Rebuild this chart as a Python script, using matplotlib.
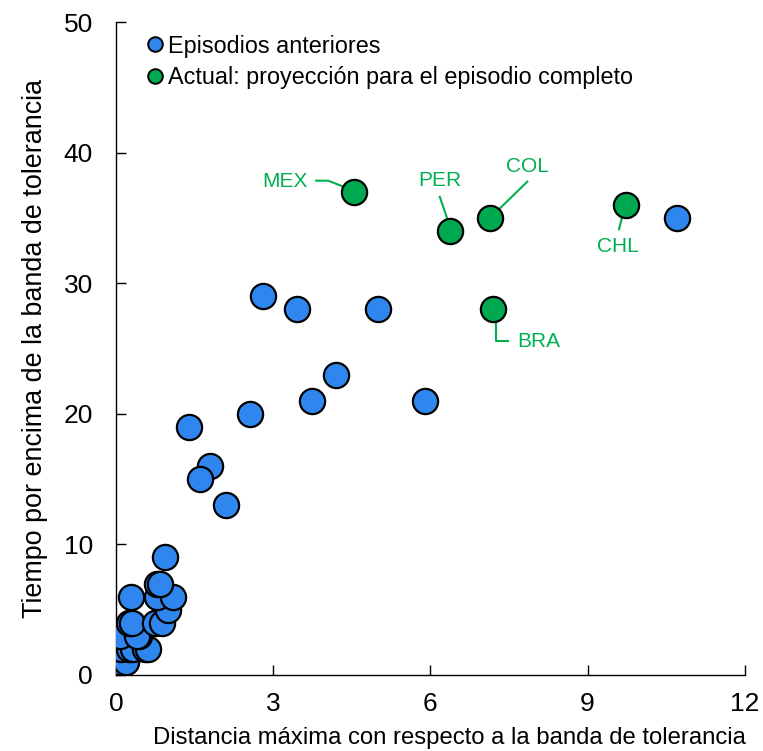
import matplotlib
matplotlib.use("Agg")
import matplotlib.pyplot as plt
from matplotlib.lines import Line2D

plt.rcParams['font.family'] = ['Liberation Sans', 'DejaVu Sans']

# Previous episodes: max distance from tolerance band vs. time above band
prev_x = [0.0, 0.05, 0.2, 0.1, 0.25, 0.33, 0.55, 0.62, 0.08, 0.43, 0.4,
          0.24, 0.3, 0.75, 0.87, 1.0, 0.29, 0.78, 1.09, 0.78, 0.84, 0.94,
          1.4, 1.8, 1.6, 2.1, 2.55, 2.8, 3.45, 3.75, 4.2, 5.0, 5.9, 10.7]
prev_y = [1, 1, 1, 2, 2, 2, 2, 2, 3, 3, 3,
          4, 4, 4, 4, 5, 6, 6, 6, 7, 7, 9,
          19, 16, 15, 13, 20, 29, 28, 21, 23, 28, 21, 35]

# Current episodes: projection for the full episode
cur_names = ['MEX', 'PER', 'COL', 'CHL', 'BRA']
cur_x = [4.55, 6.38, 7.14, 9.73, 7.2]
cur_y = [37, 34, 35, 36, 28]

blue = '#2E86EE'
green = '#00A84F'
label_green = '#00B050'

fig = plt.figure(figsize=(7.63, 7.51), dpi=100)
ax = fig.add_axes([0.152, 0.1012, 0.824, 0.8695])

ax.scatter(prev_x, prev_y, s=330, c=blue, edgecolors='black', linewidths=1.6, zorder=3)
ax.scatter(cur_x, cur_y, s=330, c=green, edgecolors='black', linewidths=1.6, zorder=3)

# Country labels with leader lines
labels = {
    'MEX': ((3.22, 37.77), [(3.82, 37.85), (4.05, 37.85), (4.31, 37.44)]),
    'PER': ((6.18, 37.9), [(6.18, 36.62), (6.32, 34.97)]),
    'COL': ((7.85, 38.97), [(7.85, 37.77), (7.31, 35.66)]),
    'CHL': ((9.58, 32.8), [(9.6, 34.13), (9.67, 35.22)]),
    'BRA': ((8.06, 25.52), [(7.25, 27.18), (7.25, 25.6), (7.48, 25.6)]),
}
for name, ((tx, ty), pts) in labels.items():
    ax.text(tx, ty, name, color=label_green, fontsize=15, ha='center', va='center')
    xs, ys = zip(*pts)
    ax.plot(xs, ys, color=label_green, lw=1.5, zorder=2)

ax.set_xlim(0, 12)
ax.set_ylim(0, 50)
ax.set_xticks([0, 3, 6, 9, 12])
ax.set_yticks([0, 10, 20, 30, 40, 50])
ax.tick_params(direction='in', length=7, width=1, labelsize=19)
ax.tick_params(axis='x', pad=12.5)
ax.tick_params(axis='y', pad=16.6)
for side in ('top', 'right'):
    ax.spines[side].set_visible(False)
for side in ('left', 'bottom'):
    ax.spines[side].set_linewidth(1)

ax.set_xlabel('Distancia máxima con respecto a la banda de tolerancia', fontsize=17.2, labelpad=7.5)
ax.xaxis.label.set_x(0.531)
ax.set_ylabel('Tiempo por encima de la banda de tolerancia', fontsize=19.4, labelpad=11.5)

handles = [
    Line2D([], [], marker='o', ls='', markersize=10.5, markerfacecolor=blue,
           markeredgecolor='black', markeredgewidth=1.4, label='Episodios anteriores'),
    Line2D([], [], marker='o', ls='', markersize=10.5, markerfacecolor=green,
           markeredgecolor='black', markeredgewidth=1.4,
           label='Actual: proyección para el episodio completo'),
]
ax.legend(handles=handles, loc='upper left', bbox_to_anchor=(0.027, 0.995), frameon=False,
          fontsize=16.8, handletextpad=0.0, handlelength=1.1, labelspacing=0.38,
          borderaxespad=0)

fig.savefig('out.png', dpi=100)
